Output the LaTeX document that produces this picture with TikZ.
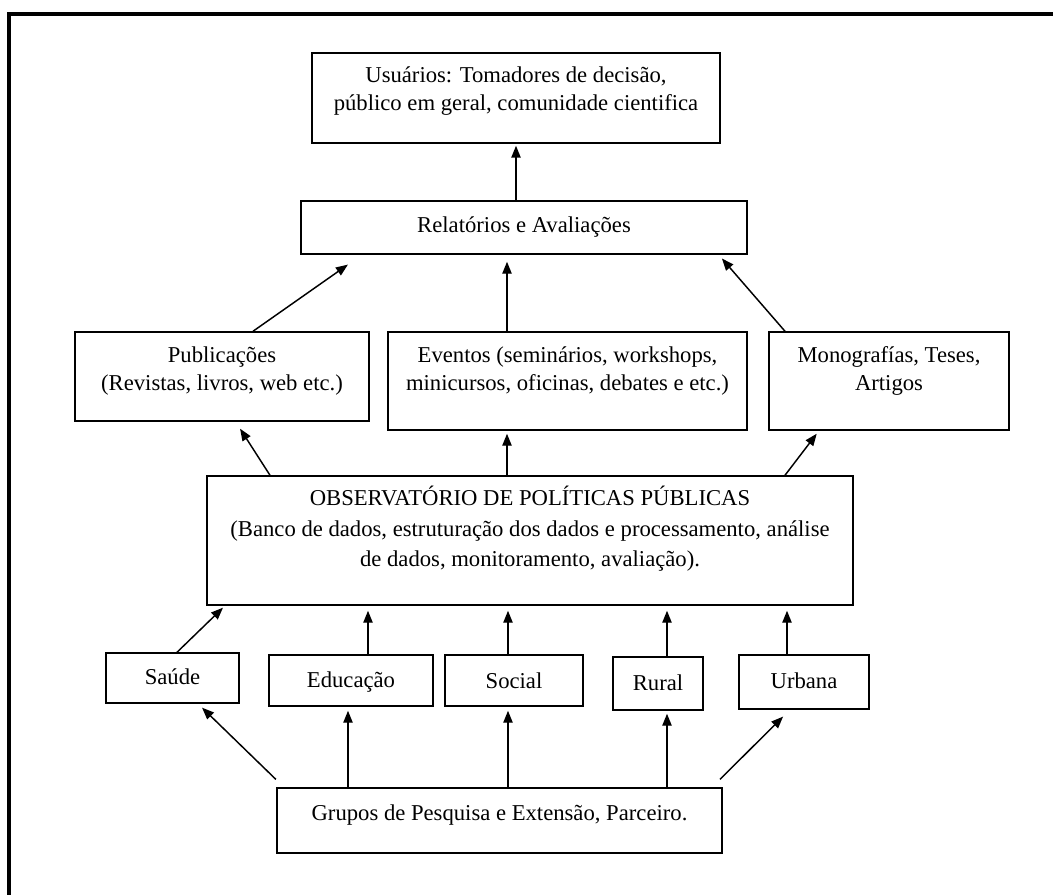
\documentclass[tikz,border=0pt]{standalone}
\usepackage{fontspec}
\setmainfont{Liberation Serif}
\usetikzlibrary{arrows.meta,fit}
\begin{document}
\begin{tikzpicture}[x=0.75pt,y=-0.75pt,
  box/.style={draw=black, line width=1.1pt, inner sep=0pt},
  txt/.style={font=\fontsize{17}{21}\selectfont, align=center, inner sep=0pt},
  arr/.style={line width=1.1pt, -{Triangle[length=9pt,width=7pt]}}]
\useasboundingbox (0,0) rectangle (1053,895);
\draw[line width=3pt] (9,895) -- (9,14) -- (1053,14);

% boxes
\node[box, fit={(312,53) (720,143)}] (usu) {};
\node[box, fit={(301,201) (747,254)}] (rel) {};
\node[box, fit={(75,332) (369,421)}] (pub) {};
\node[box, fit={(388,332) (747,430)}] (eve) {};
\node[box, fit={(769,332) (1009,430)}] (mon) {};
\node[box, fit={(207,476) (853,605)}] (obs) {};
\node[box, fit={(106,653) (239,703)}] (sau) {};
\node[box, fit={(269,655) (433,706)}] (edu) {};
\node[box, fit={(445,655) (583,706)}] (soc) {};
\node[box, fit={(613,657) (703,710)}] (rur) {};
\node[box, fit={(739,655) (869,709)}] (urb) {};
\node[box, fit={(277,788) (722,853)}] (gru) {};

% texts
\node[txt] (usuT) at (516,91) {Usuários: Tomadores de decisão,\\público em geral, comunidade cientifica};
\node[txt] (relT) at (524,227) {Relatórios e Avaliações};
\node[txt] (pubT) at (222,371) {Publicações\\(Revistas, livros, web etc.)};
\node[txt] (eveT) at (567.5,371) {Eventos (seminários, workshops,\\minicursos, oficinas, debates e etc.)};
\node[txt] (monT) at (889,371) {Monografías, Teses,\\Artigos};
\node[txt, font=\fontsize{17}{23}\selectfont] (obsT) at (530,529) {OBSERVATÓRIO DE POLÍTICAS PÚBLICAS\\(Banco de dados, estruturação dos dados e processamento, análise\\de dados, monitoramento, avaliação).};
\node[txt] (sauT) at (172.5,677) {Saúde};
\node[txt] (eduT) at (351,682) {Educação};
\node[txt] (socT) at (514,681) {Social};
\node[txt] (rurT) at (658,683) {Rural};
\node[txt] (urbT) at (804,681) {Urbana};
\node[txt] (gruT) at (499.5,815) {Grupos de Pesquisa e Extensão, Parceiro.};

% arrows
\draw[arr, shorten >=1.5pt] (rel.north -| 516,0) -- (usu.south -| 516,0);
\draw[arr, shorten >=12.9pt] (pub.north -| 253,0) -- (rel.south -| 362,0);
\draw[arr, shorten >=5.25pt] (eve.north -| 507,0) -- (rel.south -| 507,0);
\draw[arr, shorten >=3.75pt] (mon.north -| 785,0) -- (rel.south -| 718.6,0);
\draw[arr, shorten >=6.2pt] (obs.north -| 270,0) -- (pub.south -| 235.6,0);
\draw[arr, shorten >=2.25pt] (obs.north -| 507,0) -- (eve.south -| 507,0);
\draw[arr, shorten >=2.8pt] (obs.north -| 785,0) -- (mon.south -| 819,0);
\draw[arr, shorten >=2.1pt] (sau.north -| 177,0) -- (obs.south -| 225,0);
\draw[arr, shorten >=3.75pt] (edu.north -| 368,0) -- (obs.south -| 368,0);
\draw[arr, shorten >=3.75pt] (soc.north -| 508,0) -- (obs.south -| 508,0);
\draw[arr, shorten >=3.75pt] (rur.north -| 667,0) -- (obs.south -| 667,0);
\draw[arr, shorten >=3.75pt] (urb.north -| 787,0) -- (obs.south -| 787,0);
\draw[arr, shorten <=8.5pt, shorten >=4.2pt] (gru.north -| 284,0) -- (sau.south -| 198,0);
\draw[arr, shorten >=3pt] (gru.north -| 348,0) -- (edu.south -| 348,0);
\draw[arr, shorten >=3pt] (gru.north -| 508,0) -- (soc.south -| 508,0);
\draw[arr, shorten >=2.25pt] (gru.north -| 667,0) -- (rur.south -| 667,0);
\draw[arr, shorten <=8.4pt, shorten >=7.3pt] (gru.north -| 712,0) -- (urb.south -| 790,0);
\end{tikzpicture}
\end{document}
